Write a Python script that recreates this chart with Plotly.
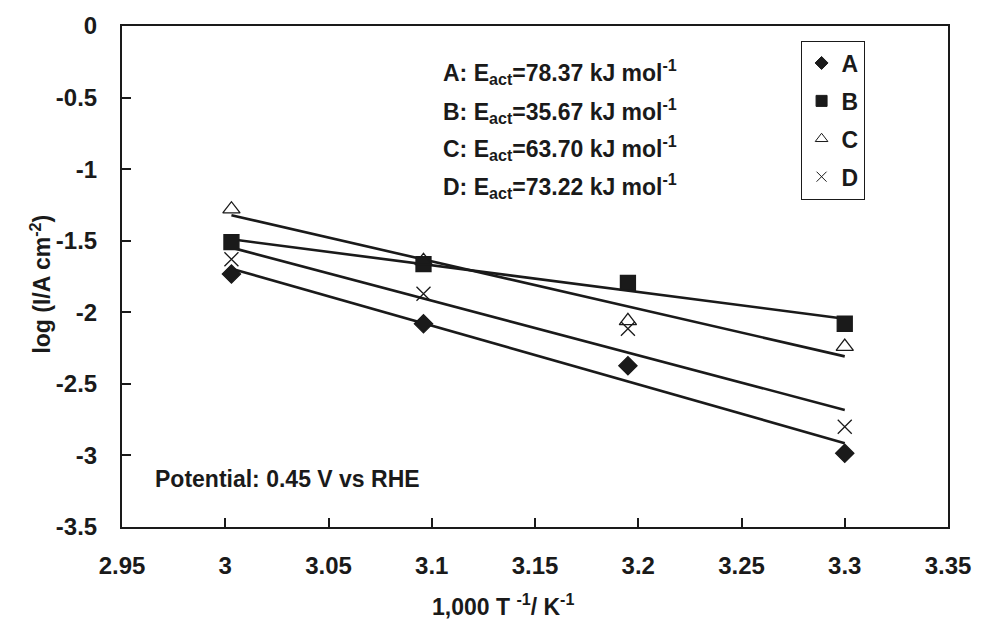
import numpy as np
import plotly.graph_objects as go

# ---- data ----
inv_T = [3.003, 3.096, 3.195, 3.300]          # 1000/T, K^-1
series_names = ["A", "B", "C", "D"]
log_i_A = [-1.733, -2.080, -2.373, -2.985]
log_i_B = [-1.510, -1.663, -1.795, -2.080]
log_i_C = [-1.280, -1.640, -2.060, -2.240]
log_i_D = [-1.630, -1.870, -2.115, -2.800]
eact_labels = ["78.37", "35.67", "63.70", "73.22"]

x_tickvals = [2.95, 3.0, 3.05, 3.1, 3.15, 3.2, 3.25, 3.3, 3.35]
x_ticktext = ["2.95", "3", "3.05", "3.1", "3.15", "3.2", "3.25", "3.3", "3.35"]
y_tickvals = [0, -0.5, -1, -1.5, -2, -2.5, -3, -3.5]
y_ticktext = ["0", "-0.5", "-1", "-1.5", "-2", "-2.5", "-3", "-3.5"]

FONT = "Liberation Sans"
INK = "#1a1a1a"

def b(s):
    return f"<b>{s}</b>"

series = [log_i_A, log_i_B, log_i_C, log_i_D]
symbols = ["diamond", "square", "triangle-up-open", "x-thin-open"]
msizes = [14, 15, 15, 14]
leg_sizes = [10, 11, 11, 10]

fig = go.Figure()

# linear fits (Arrhenius trendlines)
for ys in series:
    k, c = np.polyfit(inv_T, ys, 1)
    xf = [inv_T[0], inv_T[-1]]
    fig.add_trace(go.Scatter(x=xf, y=[k * v + c for v in xf], mode="lines",
                             line=dict(color=INK, width=2.6),
                             showlegend=False, hoverinfo="skip"))

# data points
for name, ys, sym, ms in zip(series_names, series, symbols, msizes):
    fig.add_trace(go.Scatter(
        x=inv_T, y=ys, mode="markers", name=name, showlegend=False,
        marker=dict(symbol=sym, size=ms, color=INK,
                    line=dict(color=INK, width=1.3))))

# legend entries
for name, sym, ms in zip(series_names, symbols, leg_sizes):
    fig.add_trace(go.Scatter(
        x=[None], y=[None], mode="markers", name=b(name), legendgroup=name,
        marker=dict(symbol=sym, size=ms, color=INK,
                    line=dict(color=INK, width=1))))

axis_common = dict(
    showgrid=False, zeroline=False, showline=True, mirror=True,
    linecolor=INK, linewidth=2, ticks="inside", ticklen=9, tickwidth=2,
    tickcolor=INK, tickfont=dict(family=FONT, size=24, color=INK),
)

fig.update_layout(
    width=983, height=628,
    margin=dict(l=122, r=29, t=24, b=101),
    paper_bgcolor="white", plot_bgcolor="white",
    font=dict(family=FONT, color=INK),
    xaxis=dict(range=[2.95, 3.35], tickvals=x_tickvals,
               ticktext=[b(t) for t in x_ticktext],
               ticklabelstandoff=16, **axis_common),
    yaxis=dict(range=[-3.5, 0], tickvals=y_tickvals,
               ticktext=[b(t) for t in y_ticktext],
               ticklabelstandoff=18, **axis_common),
    legend=dict(x=0.899, y=0.971, xanchor="right", yanchor="top",
                bgcolor="white", bordercolor=INK, borderwidth=1,
                font=dict(family=FONT, size=23, color=INK),
                tracegroupgap=5, itemwidth=30),
    showlegend=True,
)

annots = []
row_y = [0.9076, 0.831, 0.7555, 0.680]
for name, ea, yy in zip(series_names, eact_labels, row_y):
    annots.append(dict(
        x=0.3858, y=yy, xref="paper", yref="paper", xanchor="left", yanchor="middle",
        text=b(f"{name}: E<sub>act</sub>={ea} kJ mol<sup>-1</sup>"), showarrow=False,
        font=dict(family=FONT, size=23, color=INK)))

annots.append(dict(
    x=0.0373, y=0.0954, xref="paper", yref="paper", xanchor="left", yanchor="middle",
    text=b("Potential: 0.45 V vs RHE"), showarrow=False,
    font=dict(family=FONT, size=23, color=INK)))

annots.append(dict(
    x=0.4615, y=-0.155, xref="paper", yref="paper", xanchor="center", yanchor="middle",
    text=b("1,000 T <sup>-1</sup>/ K<sup>-1</sup>"), showarrow=False,
    font=dict(family=FONT, size=23, color=INK)))

annots.append(dict(
    x=-0.0986, y=0.485, xref="paper", yref="paper", xanchor="center", yanchor="middle",
    text=b("log (I/A cm<sup>-2</sup>)"), textangle=-90, showarrow=False,
    font=dict(family=FONT, size=23, color=INK)))

fig.update_layout(annotations=annots)

fig.write_html(
    "out.html",
    config={"displayModeBar": False},
    post_script="document.body.style.margin='0';document.body.style.overflow='hidden';",
)
